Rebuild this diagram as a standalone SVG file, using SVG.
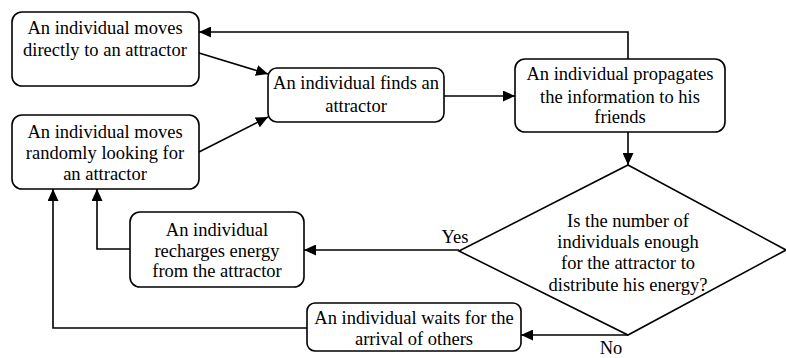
<svg xmlns="http://www.w3.org/2000/svg" width="786" height="358" viewBox="0 0 786 358">
<style>
.box{fill:#fff;stroke:#000;stroke-width:1.6}
.lbl{font-family:'Liberation Serif',serif !important;font-size:18.5px;fill:#000;text-anchor:middle}
.c{fill:none;stroke:#000;stroke-width:1.6}
</style>
<defs>
<marker id="a" viewBox="0 0 12 11" refX="12" refY="5.5" markerWidth="12" markerHeight="11" markerUnits="userSpaceOnUse" orient="auto">
<path d="M0,0 L12,5.5 L0,11 Z" fill="#000"/>
</marker>
</defs>
<rect width="786" height="358" fill="#fff"/>
<g id="connectors">
<path class="c" d="M628,59 V32 H199" marker-end="url(#a)"/>
<path class="c" d="M199,53 L268,74" marker-end="url(#a)"/>
<path class="c" d="M199,152 L268,117" marker-end="url(#a)"/>
<path class="c" d="M444,96 H515" marker-end="url(#a)"/>
<path class="c" d="M628,132 V165" marker-end="url(#a)"/>
<path class="c" d="M459,250 H304" marker-end="url(#a)"/>
<path class="c" d="M130,249 H97 V189" marker-end="url(#a)"/>
<path class="c" d="M628,335 H521" marker-end="url(#a)"/>
<path class="c" d="M307,328 H53 V189" marker-end="url(#a)"/>
</g>
<g id="n1">
<rect class="box" x="12" y="12" width="187" height="74" rx="10"/>
<text class="lbl" style="font-family:'Liberation Serif',serif" x="105" y="34">An individual moves</text>
<text class="lbl" style="font-family:'Liberation Serif',serif" x="105" y="56">directly to an attractor</text>
</g>
<g id="n2">
<rect class="box" x="12" y="115" width="187" height="74" rx="10"/>
<text class="lbl" style="font-family:'Liberation Serif',serif" x="105" y="138">An individual moves</text>
<text class="lbl" style="font-family:'Liberation Serif',serif" x="105" y="159">randomly looking for</text>
<text class="lbl" style="font-family:'Liberation Serif',serif" x="105" y="180">an attractor</text>
</g>
<g id="n3">
<rect class="box" x="268" y="68" width="176" height="54" rx="9"/>
<text class="lbl" style="font-family:'Liberation Serif',serif" x="356" y="89">An individual finds an</text>
<text class="lbl" style="font-family:'Liberation Serif',serif" x="356" y="112">attractor</text>
</g>
<g id="n4">
<rect class="box" x="515" y="59" width="210" height="73" rx="10"/>
<text class="lbl" style="font-family:'Liberation Serif',serif" x="620" y="80">An individual propagates</text>
<text class="lbl" style="font-family:'Liberation Serif',serif" x="620" y="103">the information to his</text>
<text class="lbl" style="font-family:'Liberation Serif',serif" x="620" y="123">friends</text>
</g>
<g id="n5">
<path class="box" d="M628,165 L786,250 L628,335 L459,251 Z"/>
<text class="lbl" style="font-family:'Liberation Serif',serif" x="628" y="227">Is the number of</text>
<text class="lbl" style="font-family:'Liberation Serif',serif" x="628" y="248">individuals enough</text>
<text class="lbl" style="font-family:'Liberation Serif',serif" x="628" y="269">for the attractor to</text>
<text class="lbl" style="font-family:'Liberation Serif',serif" x="628" y="291">distribute his energy?</text>
</g>
<g id="n6">
<rect class="box" x="130" y="212" width="174" height="75" rx="10"/>
<text class="lbl" style="font-family:'Liberation Serif',serif" x="217" y="236">An individual</text>
<text class="lbl" style="font-family:'Liberation Serif',serif" x="217" y="257">recharges energy</text>
<text class="lbl" style="font-family:'Liberation Serif',serif" x="217" y="277">from the attractor</text>
</g>
<g id="n7">
<rect class="box" x="307" y="303" width="214" height="48" rx="8"/>
<text class="lbl" style="font-family:'Liberation Serif',serif" x="414" y="324">An individual waits for the</text>
<text class="lbl" style="font-family:'Liberation Serif',serif" x="414" y="345">arrival of others</text>
</g>
<g id="labels">
<text class="lbl" style="font-family:'Liberation Serif',serif" x="455" y="243">Yes</text>
<text class="lbl" style="font-family:'Liberation Serif',serif" x="611" y="354">No</text>
</g>
</svg>
